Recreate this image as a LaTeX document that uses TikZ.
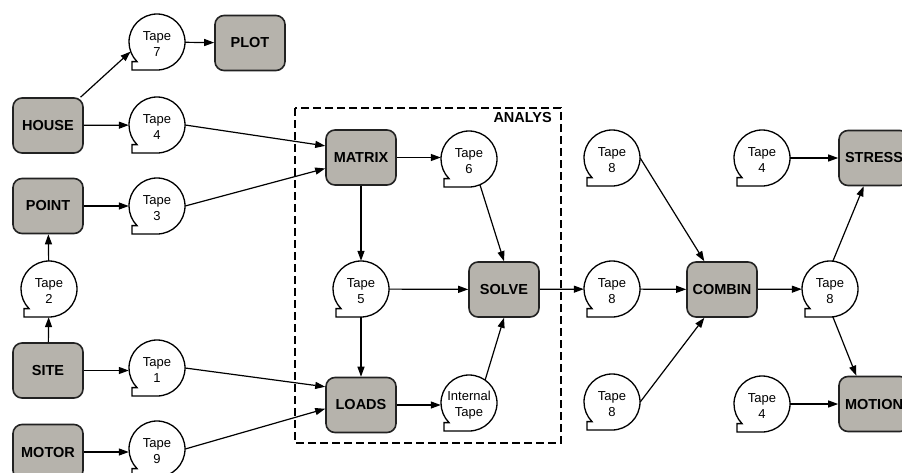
\documentclass[tikz,border=0pt]{standalone}
\usepackage{fontspec}
\setmainfont{Liberation Sans}
\usetikzlibrary{arrows.meta}
\definecolor{boxfill}{RGB}{182,179,172}
\definecolor{boxline}{RGB}{34,34,34}
\tikzset{
  proc/.style={draw=boxline, line width=1.6pt, fill=boxfill, rounded corners=9pt,
    minimum width=70pt, minimum height=55pt, inner sep=0pt,
    font=\fontsize{14.5pt}{16pt}\selectfont\bfseries},
  tapenode/.style={circle, minimum size=56pt, inner sep=0pt},
  tapetext/.style={inner sep=0pt, align=center,
    font=\fontsize{13pt}{16pt}\selectfont},
  tapeline/.style={draw=black, line width=1.3pt, fill=white},
  conn/.style={line width=1.2pt, -{Triangle[length=10pt,width=7pt]}},
  groupbox/.style={draw=black, line width=1.3pt, dash pattern=on 8pt off 4pt}
}
\newcommand{\tapeat}[3]{%
  \coordinate (#1c) at (#2);
  \draw[tapeline, shift={(#1c)}, x=1pt, y=1pt]
    (0,-28) arc[start angle=-90, end angle=224.6, radius=28]
    -- (-25,-19.6) -- (-25,-28) -- cycle;
  \node[tapenode] (#1) at (#1c) {};
  \node[tapetext] (#1t) at ([yshift=-2.5pt]#1c) {#3};
}
\begin{document}
\begin{tikzpicture}[x=1pt, y=-1pt]
\useasboundingbox (0,0) rectangle (902,472);
\clip (0,0) rectangle (902,472);

% group box
\draw[groupbox] (295,108) rectangle (561,443);
\node[anchor=north east, inner sep=0pt, font=\fontsize{14.5pt}{16pt}\selectfont\bfseries] (analys) at (552,112) {ANALYS};

% process boxes
\node[proc] (house)  at (48,125.5) {HOUSE};
\node[proc] (point)  at (48,206)   {POINT};
\node[proc] (site)   at (48,370.5) {SITE};
\node[proc] (motor)  at (48,452)   {MOTOR};
\node[proc] (plot)   at (250,43)   {PLOT};
\node[proc] (matrix) at (361,157.5) {MATRIX};
\node[proc] (solve)  at (504,289.5) {SOLVE};
\node[proc] (loads)  at (361,405)  {LOADS};
\node[proc] (combin) at (722,289.5) {COMBIN};
\node[proc] (stress) at (874,158)  {STRESS};
\node[proc] (motion) at (874,404)  {MOTION};

% tapes
\tapeat{t7}{157,42}{Tape\\7}
\tapeat{t4}{157,125}{Tape\\4}
\tapeat{t3}{157,206}{Tape\\3}
\tapeat{t2}{49,289}{Tape\\2}
\tapeat{t1}{157,368}{Tape\\1}
\tapeat{t9}{157,449}{Tape\\9}
\tapeat{t6}{469,159}{Tape\\6}
\tapeat{t5}{361,289}{Tape\\5}
\tapeat{ti}{469,403}{Internal\\Tape}
\tapeat{t8a}{612,158}{Tape\\8}
\tapeat{t8b}{612,289}{Tape\\8}
\tapeat{t8c}{612,402}{Tape\\8}
\tapeat{t8r}{830,289}{Tape\\8}
\tapeat{t4a}{762,158}{Tape\\4}
\tapeat{t4b}{762,404}{Tape\\4}

% connectors
\draw[conn] (house.41) -- (t7.200);
\draw[conn] (t7) -- (plot);
\draw[conn] (house) -- (t4);
\draw[conn] (point) -- (t3);
\draw[conn] (t2) -- (point);
\draw[conn] (site) -- (t2);
\draw[conn] (site) -- (t1.west |- site);
\draw[conn] (motor) -- (t9.west |- motor);
\draw[conn] (t4.east) -- (matrix.162);
\draw[conn] (t3.east) -- (matrix.197);
\draw[conn] (t1.east) -- (loads.153);
\draw[conn] (t9.east) -- (loads.186);
\draw[conn] (matrix) -- (t6.west |- matrix);
\draw[conn] (matrix) -- (t5);
\draw[conn] (t5) -- (loads);
\draw[conn] (t5) -- (solve);
\draw[conn] (t6.293) -- (solve.north);
\draw[conn] (loads) -- (ti.west |- loads);
\draw[conn] (ti.55) -- (solve.south);
\draw[conn] (solve) -- (t8b);
\draw[conn] (t8a.east) -- (combin.122);
\draw[conn] (t8b) -- (combin);
\draw[conn] (t8c.east) -- (combin.238);
\draw[conn] (combin) -- (t8r);
\draw[conn] (t8r.84) -- (stress.250);
\draw[conn] (t8r.276) -- (motion.122);
\draw[conn] (t4a) -- (stress);
\draw[conn] (t4b) -- (motion);
\end{tikzpicture}
\end{document}
